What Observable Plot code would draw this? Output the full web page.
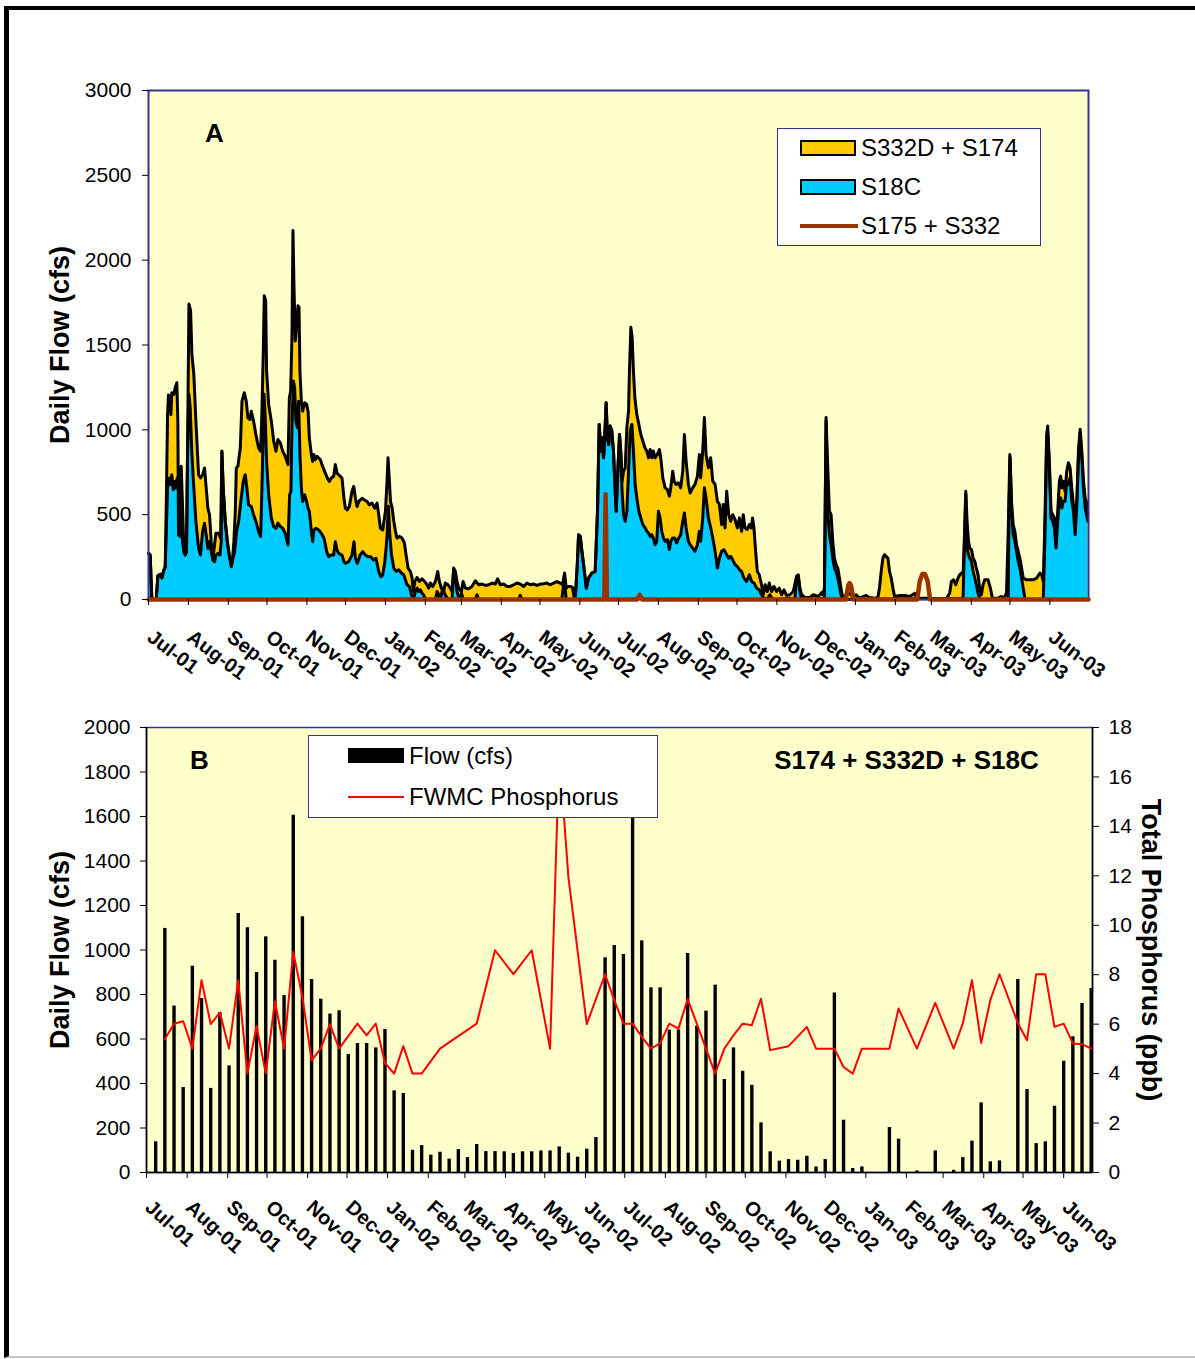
<!DOCTYPE html>
<html><head><meta charset="utf-8">
<script src="https://cdn.jsdelivr.net/npm/d3@7"></script>
<script src="https://cdn.jsdelivr.net/npm/@observablehq/plot@0.6"></script>
<style>
body{margin:0;background:#fff;}
#page{position:relative;width:1195px;height:1359px;overflow:hidden;font-family:"Liberation Sans",Arial,sans-serif;background:#fff;}
#border{position:absolute;left:4px;top:6px;width:1200px;height:1352px;border-top:4px solid #000;border-left:5px solid #000;border-bottom:2px solid #c8c8c8;box-sizing:border-box;}
.panel{position:absolute;left:0;}
.box{position:absolute;background:#fff;border:1.5px solid #333399;box-sizing:border-box;}
.sw{position:absolute;box-sizing:border-box;}
.lt{position:absolute;font-size:24px;line-height:24px;white-space:nowrap;color:#000;}
</style></head>
<body>
<div id="page">
  <div id="border"></div>
  <div id="a" class="panel" style="top:0"></div>
  <div id="b" class="panel" style="top:700px"></div>
  <!-- legend A -->
  <div class="box" style="left:777px;top:128px;width:264px;height:118px"></div>
  <div class="sw" style="left:800px;top:140px;width:56px;height:16px;background:#FFCC00;border:2px solid #000"></div>
  <div class="lt" style="left:861px;top:136px">S332D + S174</div>
  <div class="sw" style="left:800px;top:179px;width:56px;height:16px;background:#00CCFF;border:2px solid #000"></div>
  <div class="lt" style="left:861px;top:175px">S18C</div>
  <div class="sw" style="left:800px;top:224px;width:58px;height:4px;background:#993300"></div>
  <div class="lt" style="left:861px;top:214px">S175 + S332</div>
  <!-- legend B -->
  <div class="box" style="left:308px;top:735px;width:350px;height:83px"></div>
  <div class="sw" style="left:348px;top:748px;width:56px;height:15px;background:#000"></div>
  <div class="lt" style="left:409px;top:744px">Flow (cfs)</div>
  <div class="sw" style="left:348px;top:796px;width:56px;height:2px;background:#ff0000"></div>
  <div class="lt" style="left:409px;top:785px">FWMC Phosphorus</div>
</div>
<script>
// ---------- DATA ----------
// days are counted from 1 Jul 2001
const monthLabels = ["Jul-01","Aug-01","Sep-01","Oct-01","Nov-01","Dec-01","Jan-02","Feb-02","Mar-02","Apr-02","May-02","Jun-02",
  "Jul-02","Aug-02","Sep-02","Oct-02","Nov-02","Dec-02","Jan-03","Feb-03","Mar-03","Apr-03","May-03","Jun-03"];
const flowTicksA = [0,500,1000,1500,2000,2500,3000];
const flowTicksB = [0,200,400,600,800,1000,1200,1400,1600,1800,2000];
const tpTicks = [0,2,4,6,8,10,12,14,16,18];

// Panel A: combined daily flow S18C + S332D + S174 (top of stack), [day, cfs]
const totalFlow = [[0,272],[1.3,262],[2.6,0],[6,0],[7.3,140],[9.1,148],[10.4,128],[11.7,168],[13,193],[14,657],[14.8,1090],[15.5,1205],[16.6,1195],[17.4,1090],[18.1,1219],[19.7,1209],[20.7,1248],[22,1278],[22.8,1051],[23.3,380],[24.9,371],[25.4,785],[26.4,558],[27.5,282],[28.5,262],[29.5,282],[30.3,854],[31.4,1741],[32.7,1702],[33.7,1445],[35.2,1327],[36.8,1051],[38.9,735],[40.4,716],[42,735],[43.5,775],[44.8,657],[46.1,538],[47.4,499],[48.7,341],[50,243],[51.3,321],[52.3,390],[54.4,390],[56,361],[57,874],[58,657],[59.6,460],[61.2,341],[62.7,262],[64.3,203],[65.3,243],[66.3,341],[67.4,519],[68.2,775],[69.4,785],[71.3,893],[72.6,1169],[74.4,1219],[75.9,1169],[77.2,1071],[78.8,1061],[79.8,1110],[81.6,1051],[83.4,972],[85.5,893],[87.1,874],[88.1,1110],[89.1,1445],[89.9,1791],[91,1761],[91.7,1347],[93.3,1150],[95.4,1051],[97.2,933],[99,874],[100.5,943],[102.4,923],[104.2,874],[106.2,844],[108.3,795],[109.4,1189],[110.4,1229],[111.4,1544],[112.2,2175],[113,1840],[114,1524],[115.3,1643],[116.1,1731],[116.9,1722],[117.6,1347],[118.7,1169],[119.7,1110],[121.3,1160],[122.8,1150],[123.9,1110],[124.9,953],[126.5,854],[127.5,814],[128.5,854],[129.6,824],[130.9,844],[132.2,834],[133.5,824],[134.7,795],[137.3,745],[138.9,716],[140.4,696],[142,716],[143.8,726],[145.1,795],[146.4,745],[147.7,735],[150.3,716],[151.8,597],[152.9,538],[154.2,528],[156,548],[158,637],[159.4,667],[160.7,597],[162,548],[163.3,578],[165.8,597],[167.4,588],[169.7,578],[171.5,558],[173.6,568],[175.7,538],[177.5,568],[178.8,499],[180.1,420],[181.9,410],[184,520],[185,660],[186,835],[187.1,697],[187.9,579],[189.2,540],[190.5,461],[191.8,402],[193,362],[194.9,372],[196.9,362],[198.7,333],[200,264],[201.6,185],[203.4,165],[204.7,126],[205.7,47],[206.8,106],[208.6,130],[210.4,106],[212.4,122],[214.5,106],[216.3,87],[217.6,67],[218.9,97],[220.7,77],[222.8,106],[224.6,165],[225.9,106],[227.4,67],[229.3,51],[230.5,97],[232.6,87],[234.4,67],[235.7,47],[237,185],[238.3,165],[239.6,106],[240.9,67],[243,47],[244.3,106],[246.1,67],[248.6,63],[251.2,77],[253.8,110],[256.4,87],[259,91],[261.6,83],[264.2,87],[266.8,97],[269.3,91],[271.1,122],[273.2,87],[275.8,91],[278.4,77],[281,77],[283.6,87],[286.1,97],[288.7,91],[291.3,77],[293.9,97],[296.5,87],[299.1,91],[301.7,83],[304.2,91],[306.8,93],[309.4,97],[312,87],[314.6,97],[317.2,106],[319.8,97],[321.6,87],[323.1,156],[324.4,67],[325.7,77],[327.5,77],[329.3,71],[330.6,8],[331.9,67],[333,205],[334,382],[335.3,372],[336.6,284],[337.9,205],[340,67],[341.7,126],[344.3,156],[346.9,165],[348.7,520],[350,1032],[351.3,875],[352.3,953],[353.4,835],[354.4,973],[355.4,1160],[356.4,953],[357.4,914],[358.5,1022],[359.8,993],[361.1,875],[362.2,678],[363.2,520],[364.7,796],[365.8,973],[366.8,875],[367.8,697],[368.9,756],[370.2,776],[371.5,1013],[372.8,1111],[373.5,1347],[374.6,1604],[375.6,1544],[376.6,1347],[377.7,1190],[379.2,1091],[380.8,1032],[382.3,973],[383.9,934],[385.5,894],[387,875],[388.3,835],[389.6,884],[390.8,835],[392.1,875],[393.4,835],[395.2,855],[396.8,884],[398.1,816],[399.4,717],[401.2,658],[403,648],[404.5,609],[405.6,658],[407.1,756],[408.2,697],[409.7,678],[411.5,688],[413.3,658],[414.9,756],[416.2,973],[417.5,816],[419.3,678],[420.6,628],[422.6,658],[424.4,678],[426.3,727],[427.8,855],[428.8,717],[430.4,875],[431.7,1072],[433,855],[434.8,776],[436.6,835],[438.2,697],[440,678],[441.8,579],[443.4,560],[445.1,441],[446.4,560],[447.7,422],[449,638],[450.6,500],[452.1,461],[453.7,500],[455.5,471],[457.3,422],[458.9,481],[460.6,402],[461.9,500],[463.2,422],[465,412],[466.6,441],[468.1,422],[469.1,481],[470.2,422],[471.5,284],[472.8,165],[474.3,146],[476.1,87],[477.4,28],[478.9,87],[480.5,47],[482.1,97],[483.9,47],[485.7,77],[487.8,47],[489.8,67],[491.7,28],[493.5,57],[495.5,24],[498.1,28],[500.7,47],[503.3,136],[504.6,146],[505.9,67],[507.2,28],[509.8,12],[513.7,12],[516.3,28],[520.1,18],[522.7,40],[523.6,28],[524.9,67],[526.2,1072],[527.5,776],[528.8,520],[530.1,500],[531.4,343],[532.7,244],[534,205],[535.3,185],[536.6,126],[537.8,67],[539.1,8],[541.7,28],[544.3,37],[546.9,18],[549.5,28],[552.1,8],[557.3,24],[559.9,12],[563.8,8],[566.4,12],[567.7,67],[569,165],[570.3,244],[571.6,264],[574.2,244],[575.5,165],[576.8,126],[578.1,67],[579.4,18],[583.3,24],[587.3,24],[591.2,18],[595.1,37],[596.4,8],[604,8],[609.2,4],[619.6,4],[622.2,37],[623.5,106],[625.3,116],[626.9,87],[628.7,126],[630,146],[631.3,156],[632.6,146],[633.7,382],[634.7,638],[635.7,461],[636.8,343],[637.8,303],[639.1,294],[640.4,244],[641.7,225],[642.9,185],[644.2,146],[645.5,67],[646.8,28],[648.1,87],[649.4,116],[652,116],[653.8,67],[655.4,8],[659.8,8],[662.4,18],[664.2,8],[666.3,37],[667.6,382],[668.9,855],[670.2,579],[671.5,441],[672.8,402],[674.1,323],[675.4,284],[676.7,244],[678,185],[679.3,126],[681.9,116],[687.1,116],[689.7,126],[692.3,156],[693.6,146],[694.9,106],[696.2,481],[697.5,973],[698.3,1022],[699.6,816],[700.9,520],[702.2,500],[703.5,481],[704.8,362],[706.1,520],[707.4,697],[708.4,727],[709.4,658],[710.4,697],[711.8,638],[713.1,756],[714.4,806],[715.7,776],[717,658],[718.3,559],[719.6,471],[720.9,579],[722.2,875],[723.5,1003],[724.8,875],[726.1,697],[727.4,599],[728.7,569],[729.5,500]];

// Panel A: S18C daily flow, [day, cfs]
const s18cFlow = [[0,272],[1.3,262],[2.6,0],[6,0],[7.3,140],[9.1,148],[10.4,128],[11.7,168],[13,193],[14,460],[15,696],[16.1,716],[17.1,676],[18.1,735],[19.2,647],[20.2,696],[21.2,657],[22.3,716],[23.3,657],[24.4,775],[25.4,598],[26.4,341],[27.5,282],[28.5,262],[29.5,282],[30.3,854],[31.4,1209],[32.4,1130],[33.7,854],[35.2,657],[36.8,460],[38.9,302],[40.4,262],[42,400],[43.5,450],[44.8,381],[46.1,302],[47.4,341],[48.7,282],[50,233],[51.3,223],[52.3,262],[53.9,272],[55.5,262],[56.5,341],[57,874],[58,657],[59.6,460],[61.2,341],[62.7,262],[64.3,193],[65.3,233],[66.9,282],[68.4,400],[70,460],[72,598],[73.6,696],[75.1,735],[76.4,657],[77.7,558],[79.8,548],[81.6,499],[83.4,460],[85.5,400],[87.1,371],[88.1,657],[89.7,1209],[90.7,1071],[91.7,814],[93.3,617],[95.4,479],[97.2,430],[99,420],[100.5,450],[102.4,430],[104.2,420],[106.2,390],[108.3,321],[109.6,617],[110.6,637],[111.4,1012],[112.5,1288],[113.5,1248],[114.5,1051],[115.6,1012],[116.6,1169],[117.6,854],[118.7,657],[119.7,578],[121.3,617],[122.8,578],[123.9,538],[124.9,519],[126.5,400],[127.5,341],[128.5,410],[130.1,420],[132.2,410],[134.2,390],[136.3,361],[138.4,282],[139.9,252],[141.5,262],[143.8,262],[145.1,341],[146.4,292],[147.7,272],[150.3,262],[151.8,223],[152.9,213],[155.5,223],[158,262],[159.6,341],[160.7,243],[162.2,213],[164.3,262],[166.4,282],[168.4,262],[170.5,252],[172.6,252],[174.7,233],[176.7,243],[178.8,164],[180.4,134],[181.9,144],[183.5,223],[184.5,303],[185.3,382],[186.3,550],[187.4,382],[188.7,264],[190.5,185],[192.3,165],[194.3,175],[196.4,156],[198.2,146],[199.5,116],[200.8,87],[202.6,77],[204.2,28],[205.7,0],[207.3,47],[208.6,67],[209.9,47],[211.2,57],[212.4,37],[213.7,28],[215,0],[222.8,0],[224.1,47],[225.4,28],[226.7,0],[228.5,67],[229.8,37],[231.1,18],[233.1,0],[235.7,0],[237,175],[238.3,126],[239.6,47],[241.4,0],[243,37],[244.5,0],[253.8,0],[255.1,28],[256.4,0],[287.4,0],[288.7,24],[290,0],[321,0],[322.9,126],[324.4,0],[331.4,0],[333,205],[334,382],[335.3,372],[336.6,284],[337.9,205],[340,67],[341.7,126],[344.3,156],[346.9,165],[348.7,520],[350,1032],[351.3,875],[352.3,953],[353.4,835],[354.4,973],[355.4,1160],[356.4,953],[357.4,914],[358.5,1022],[359.8,993],[361.1,875],[362.2,678],[363.2,520],[364.7,796],[365.8,973],[366.8,855],[367.8,638],[368.9,500],[370.2,461],[371.5,520],[372.8,756],[374.1,993],[375.4,1032],[376.6,875],[377.9,678],[379.2,599],[380.8,520],[382.3,481],[383.9,441],[385.7,422],[387,402],[388.3,392],[389.6,372],[390.8,382],[392.1,362],[393.4,323],[394.7,343],[396,520],[397.3,481],[398.6,402],[399.9,362],[401.2,343],[403,353],[404.5,294],[405.6,343],[407.1,362],[408.7,362],[410.2,333],[411.8,362],[413.3,382],[414.9,461],[416.2,510],[417.5,422],[419.3,343],[420.6,323],[422.6,303],[424.4,284],[426.3,323],[427.8,402],[428.8,343],[430.4,481],[431.7,658],[433,599],[434.8,481],[436.6,422],[438.2,362],[440,284],[441.8,185],[443.4,244],[445.1,284],[446.9,294],[449,264],[450.6,244],[452.1,254],[453.7,234],[455.5,205],[457.3,195],[458.9,175],[460.6,165],[462.4,126],[464.5,106],[466.6,146],[468.4,106],[470.2,97],[472.3,67],[474.3,57],[476.1,28],[477.9,8],[480,0],[482.6,28],[484.7,0],[502,8],[503.3,126],[504.6,136],[505.9,47],[507.2,0],[524.9,8],[526.2,1052],[527.5,520],[528.8,382],[530.1,323],[531.4,244],[532.7,185],[534,165],[535.3,126],[536.6,77],[537.8,28],[539.1,0],[632.6,8],[633.7,343],[634.7,618],[635.7,303],[636.8,264],[637.8,244],[639.1,225],[640.4,165],[641.7,126],[642.9,87],[644.2,37],[645.5,8],[646.8,0],[667.6,0],[668.4,579],[669.2,835],[670.2,540],[671.5,382],[672.8,343],[674.1,284],[675.4,225],[676.7,185],[678,126],[679.3,67],[680.6,8],[681.9,0],[694.9,0],[696.2,382],[697.5,934],[698.3,993],[699.6,776],[700.9,481],[702.2,461],[703.5,422],[704.8,303],[706.1,461],[707.4,579],[708.4,599],[709.4,540],[710.4,579],[711.8,579],[713.1,697],[714.4,678],[715.7,717],[717,579],[718.3,520],[719.6,382],[720.9,540],[722.2,835],[723.5,983],[724.8,835],[726.1,658],[727.4,540],[728.7,490],[729.5,461]];

// Panel A: S175 + S332 daily flow, [day, cfs]
const s175Flow = [[0,0],[354,0],[355,620],[356,0],[379.5,0],[381.5,28],[383.5,0],[541.5,0],[543.5,85],[544.5,97],[545.5,85],[547.5,0],[597,0],[599,110],[601,150],[603,150],[605,110],[607,0],[730,0]];

// Panel B: weekly flow S174 + S332D + S18C (cfs), first week ends day 7, one value per week
const weeklyFlow = [138,1097,748,382,927,782,378,719,479,1164,1100,899,1059,954,795,1606,1149,867,779,712,
  727,530,580,580,560,643,367,355,100,121,78,91,60,103,67,126,94,94,93,85,
  93,93,97,97,115,87,69,105,157,965,1020,980,1620,1041,830,830,640,640,984,658,
  725,842,418,560,455,392,223,93,51,58,55,73,25,58,807,235,18,25,0,0,
  202,150,0,7,0,97,0,10,67,141,313,48,52,0,867,373,130,138,298,500,
  610,760,827];

// Panel B: flow-weighted mean concentration of total phosphorus, [week index, ppb]
const fwmcTP = [[1,5.39],[2,6.02],[3,6.12],[4,5.01],[5,7.78],[6,6.0],[7,6.47],[8,5.01],[9,7.78],[10,4.0],[11,5.93],[12,4.0],[13,6.93],[14,5.01],[15,8.92],[16,7.10],[17,4.54],[18,5.01],[19,6.0],[20,5.01],[22,6.02],[23,5.55],[24,6.02],[25,4.43],[26,4.0],[27,5.11],[28,4.0],[29,4.0],[31,5.01],[35,6.02],[37,8.99],[39,8.02],[41,8.99],[43,5.01],[44,17],[45,11.95],[47,6.0],[49,8.02],[50,6.97],[51,6.02],[52,6.02],[53,5.49],[54,5.01],[55,5.22],[56,6.02],[57,5.82],[58,7.01],[59,6.02],[61,4.0],[62,5.01],[63,5.55],[64,6.02],[65,5.96],[66,7.03],[67,4.95],[69,5.11],[71,5.89],[72,5.01],[74,5.01],[75,4.27],[76,4.0],[77,5.01],[80,5.01],[81,6.63],[83,5.01],[85,6.86],[87,5.01],[88,6.02],[89,7.78],[90,5.24],[91,6.97],[92,8.02],[94,6.05],[95,5.35],[96,8.02],[97,8.02],[98,5.89],[99,6.02],[100,5.22],[101,5.19],[102,5.01]];

// ---------- CHART ----------
const START = Date.UTC(2001, 6, 1);
const toDate = d => new Date(START + d * 864e5);
const monthDates = monthLabels.map((_, i) => d3.utcMonth.offset(new Date(START), i));
const FONT = '"Liberation Sans", Arial, sans-serif';
const rows = arr => arr.map(([d, v]) => ({date: toDate(d), value: v}));

const totalRows = rows(totalFlow), s18cRows = rows(s18cFlow), s175Rows = rows(s175Flow);

const plotA = Plot.plot({
  width: 1195, height: 700,
  marginTop: 90, marginBottom: 101, marginLeft: 148, marginRight: 107,
  style: {fontFamily: FONT, color: "#000", background: "transparent", overflow: "visible"},
  x: {type: "utc", domain: [toDate(0), toDate(730)], label: null},
  y: {domain: [0, 3000], label: null},
  marks: [
    Plot.frame({fill: "#FFFFCC"}),
    Plot.areaY(totalRows, {x: "date", y: "value", fill: "#FFCC00"}),
    Plot.areaY(s18cRows, {x: "date", y: "value", fill: "#00CCFF"}),
    Plot.lineY(totalRows, {x: "date", y: "value", stroke: "#000", strokeWidth: 3, strokeLinejoin: "round"}),
    Plot.lineY(s18cRows, {x: "date", y: "value", stroke: "#000", strokeWidth: 3, strokeLinejoin: "round"}),
    Plot.frame({stroke: "#333399", strokeWidth: 2}),
    Plot.lineY(s175Rows, {x: "date", y: "value", stroke: "#993300", strokeWidth: 4.5, strokeLinejoin: "round"}),
    Plot.axisY({ticks: flowTicksA, tickSize: 6, tickPadding: 11, fontSize: 21, tickFormat: d3.format("d"), label: null}),
    Plot.axisX({ticks: monthDates, tickSize: 6, tickFormat: () => "", label: null}),
    Plot.text(monthDates, {x: d => d, text: (d, i) => monthLabels[i], frameAnchor: "bottom", rotate: 37,
      textAnchor: "start", lineAnchor: "top", dx: 6, dy: 29, fontSize: 20, fontWeight: "bold"}),
    Plot.text(["Daily Flow (cfs)"], {text: d => d, frameAnchor: "left", rotate: -90, dx: -88,
      textAnchor: "middle", lineAnchor: "middle", fontSize: 27, fontWeight: "bold"}),
    Plot.text(["A"], {text: d => d, frameAnchor: "top-left", dx: 66, dy: 43,
      textAnchor: "middle", lineAnchor: "middle", fontSize: 26, fontWeight: "bold"})
  ]
});
document.getElementById("a").appendChild(plotA);

const K = 2000 / 18;
const barRows = weeklyFlow.map((v, i) => ({date: toDate(7 + 7 * i), value: v}));
const tpRows = fwmcTP.map(([k, p]) => ({date: toDate(7 + 7 * k), ppb: p}));

const plotB = Plot.plot({
  width: 1195, height: 659,
  marginTop: 27, marginBottom: 187, marginLeft: 146, marginRight: 103,
  style: {fontFamily: FONT, color: "#000", background: "transparent", overflow: "visible"},
  x: {type: "utc", domain: [toDate(0), toDate(722)], label: null},
  y: {domain: [0, 2000], label: null},
  marks: [
    Plot.frame({fill: "#FFFFCC"}),
    Plot.ruleX(barRows, {x: "date", y1: 0, y2: "value", stroke: "#000", strokeWidth: 3.4}),
    Plot.lineY(tpRows, {x: "date", y: d => d.ppb * K, stroke: "#ff0000", strokeWidth: 2, strokeLinejoin: "round"}),
    Plot.frame({stroke: "#333399", strokeWidth: 1.5}),
    Plot.ruleX([toDate(0), toDate(722)], {stroke: "#000", strokeWidth: 1.5}),
    Plot.ruleY([0], {stroke: "#000", strokeWidth: 1.5}),
    Plot.axisY({ticks: flowTicksB, tickSize: 6, tickPadding: 10, fontSize: 21, tickFormat: d3.format("d"), label: null}),
    Plot.axisY(tpTicks.map(v => v * K), {anchor: "right", tickSize: 6, tickPadding: 10, fontSize: 21,
      tickFormat: d => String(Math.round(d / K)), label: null}),
    Plot.axisX({ticks: monthDates, tickSize: 6, tickFormat: () => "", label: null}),
    Plot.text(monthDates, {x: d => d, text: (d, i) => monthLabels[i], frameAnchor: "bottom", rotate: 42,
      textAnchor: "start", lineAnchor: "top", dx: 7, dy: 26, fontSize: 20, fontWeight: "bold"}),
    Plot.text(["Daily Flow (cfs)"], {text: d => d, frameAnchor: "left", rotate: -90, dx: -86,
      textAnchor: "middle", lineAnchor: "middle", fontSize: 27, fontWeight: "bold"}),
    Plot.text(["Total Phosphorus (ppb)"], {text: d => d, frameAnchor: "right", rotate: 90, dx: 58,
      textAnchor: "middle", lineAnchor: "middle", fontSize: 27, fontWeight: "bold"}),
    Plot.text(["B"], {text: d => d, frameAnchor: "top-left", dx: 53, dy: 33,
      textAnchor: "middle", lineAnchor: "middle", fontSize: 26, fontWeight: "bold"}),
    Plot.text(["S174 + S332D + S18C"], {text: d => d, frameAnchor: "top-left", dx: 760, dy: 33,
      textAnchor: "middle", lineAnchor: "middle", fontSize: 26, fontWeight: "bold"})
  ]
});
document.getElementById("b").appendChild(plotB);
</script>
</body></html>
